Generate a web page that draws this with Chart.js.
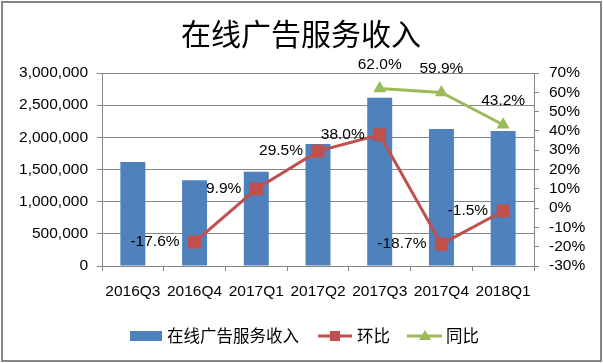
<!DOCTYPE html>
<html>
<head>
<meta charset="utf-8">
<script src="https://cdn.jsdelivr.net/npm/chart.js@4/dist/chart.umd.min.js"></script>
<style>
  html, body { margin: 0; padding: 0; background: #fff; }
  #wrap { width: 603px; height: 363px; position: relative; }
</style>
</head>
<body>
<div id="wrap"><canvas id="myChart" width="603" height="363"></canvas></div>
<script>
// chart data
const quarters = ["2016Q3", "2016Q4", "2017Q1", "2017Q2", "2017Q3", "2017Q4", "2018Q1"];
const revenue = [1616000, 1332000, 1464000, 1896000, 2616000, 2130000, 2100000];
const qoq = [null, -17.6, 9.9, 29.5, 38.0, -18.7, -1.5];
const yoy = [null, null, null, null, 62.0, 59.9, 43.2];

const titleText = "在线广告服务收入";
const seriesNames = ["在线广告服务收入", "环比", "同比"];

const BLUE = "#4F81BD";
const RED = "#C0504D";
const GREEN = "#9BBB59";
const GRID = "#868686";
const LATIN = "'Liberation Sans', 'Noto Sans CJK SC', sans-serif";
const CJK = "'Noto Sans CJK SC', 'Liberation Sans', sans-serif";

// title, border, data labels and legend
const extras = {
  id: "extras",
  afterDatasetsDraw(chart) {
    const ctx = chart.ctx;
    ctx.save();
    ctx.font = "15.5px " + LATIN;
    ctx.fillStyle = "#000";
    ctx.textBaseline = "middle";

    // 环比 labels on the left of the point
    chart.getDatasetMeta(1).data.forEach((pt, i) => {
      if (qoq[i] == null) return;
      ctx.textAlign = "right";
      ctx.fillText(qoq[i].toFixed(1) + "%", pt.x - 15, pt.y);
    });
    // 同比 labels above the point
    chart.getDatasetMeta(2).data.forEach((pt, i) => {
      if (yoy[i] == null) return;
      ctx.textAlign = "center";
      ctx.fillText(yoy[i].toFixed(1) + "%", pt.x, pt.y - 24);
    });
    ctx.restore();
  },
  afterDraw(chart) {
    const ctx = chart.ctx;
    ctx.save();

    // frame
    ctx.strokeStyle = GRID;
    ctx.lineWidth = 2;
    ctx.strokeRect(2, 2, 599, 359);

    // title
    ctx.fillStyle = "#000";
    ctx.font = "30px " + CJK;
    ctx.textAlign = "center";
    ctx.textBaseline = "middle";
    ctx.fillText(titleText, 301, 34);

    // legend
    const ly = 336;
    ctx.font = "16.5px " + CJK;
    ctx.textAlign = "left";

    ctx.fillStyle = BLUE;
    ctx.fillRect(130, ly - 5, 32, 10);
    ctx.fillStyle = "#000";
    ctx.fillText(seriesNames[0], 167, ly);

    ctx.strokeStyle = RED;
    ctx.lineWidth = 3;
    ctx.beginPath(); ctx.moveTo(318, ly); ctx.lineTo(352, ly); ctx.stroke();
    ctx.fillStyle = RED;
    ctx.fillRect(330, ly - 5, 10, 10);
    ctx.fillStyle = "#000";
    ctx.fillText(seriesNames[1], 357, ly);

    ctx.strokeStyle = GREEN;
    ctx.beginPath(); ctx.moveTo(407, ly); ctx.lineTo(442, ly); ctx.stroke();
    ctx.fillStyle = GREEN;
    ctx.beginPath();
    ctx.moveTo(425, ly - 6); ctx.lineTo(431, ly + 4); ctx.lineTo(419, ly + 4);
    ctx.closePath(); ctx.fill();
    ctx.fillStyle = "#000";
    ctx.fillText(seriesNames[2], 446, ly);

    ctx.restore();
  }
};

const ctx = document.getElementById("myChart").getContext("2d");

new Chart(ctx, {
  type: "bar",
  data: {
    labels: quarters,
    datasets: [
      {
        type: "bar",
        label: seriesNames[0],
        data: revenue,
        backgroundColor: BLUE,
        yAxisID: "y",
        categoryPercentage: 1,
        barPercentage: 0.405,
        order: 3,
      },
      {
        type: "line",
        label: seriesNames[1],
        data: qoq,
        borderColor: RED,
        backgroundColor: RED,
        borderWidth: 3,
        pointStyle: "rect",
        pointRadius: 8.5,
        pointBorderWidth: 1,
        pointBackgroundColor: RED,
        pointBorderColor: RED,
        tension: 0,
        spanGaps: false,
        yAxisID: "y1",
        order: 2,
      },
      {
        type: "line",
        label: seriesNames[2],
        data: yoy,
        borderColor: GREEN,
        backgroundColor: GREEN,
        borderWidth: 3,
        pointStyle: "triangle",
        pointRadius: 7.5,
        pointBorderWidth: 0,
        pointBackgroundColor: GREEN,
        tension: 0,
        yAxisID: "y1",
        order: 1,
      },
    ],
  },
  options: {
    responsive: false,
    animation: false,
    layout: { padding: { top: 73, bottom: 57, left: 0, right: 0 } },
    plugins: {
      legend: { display: false },
      title: { display: false },
      tooltip: { enabled: false },
    },
    scales: {
      x: {
        offset: true,
        grid: { display: true, drawOnChartArea: false, offset: true, tickLength: 5, color: GRID },
        border: { color: GRID },
        ticks: { color: "#000", font: { size: 15.5, family: LATIN }, padding: 11, maxRotation: 0, autoSkip: false },
        afterFit(scale) { scale.height = 40; },
      },
      y: {
        position: "left",
        min: 0,
        max: 3000000,
        ticks: {
          stepSize: 500000,
          autoSkip: false,
          color: "#000",
          font: { size: 15.5, family: LATIN },
          padding: 9,
          callback: (v) => v.toLocaleString("en-US"),
        },
        grid: { color: GRID, tickLength: 5 },
        border: { color: GRID },
        afterFit(scale) { scale.width = 102; },
      },
      y1: {
        position: "right",
        min: -30,
        max: 70,
        ticks: {
          stepSize: 10,
          autoSkip: false,
          color: "#000",
          font: { size: 15.5, family: LATIN },
          padding: 10,
          callback: (v) => v + "%",
        },
        grid: { drawOnChartArea: false, color: GRID, tickLength: 5 },
        border: { color: GRID },
        afterFit(scale) { scale.width = 69; },
      },
    },
  },
  plugins: [extras],
});
</script>
</body>
</html>
